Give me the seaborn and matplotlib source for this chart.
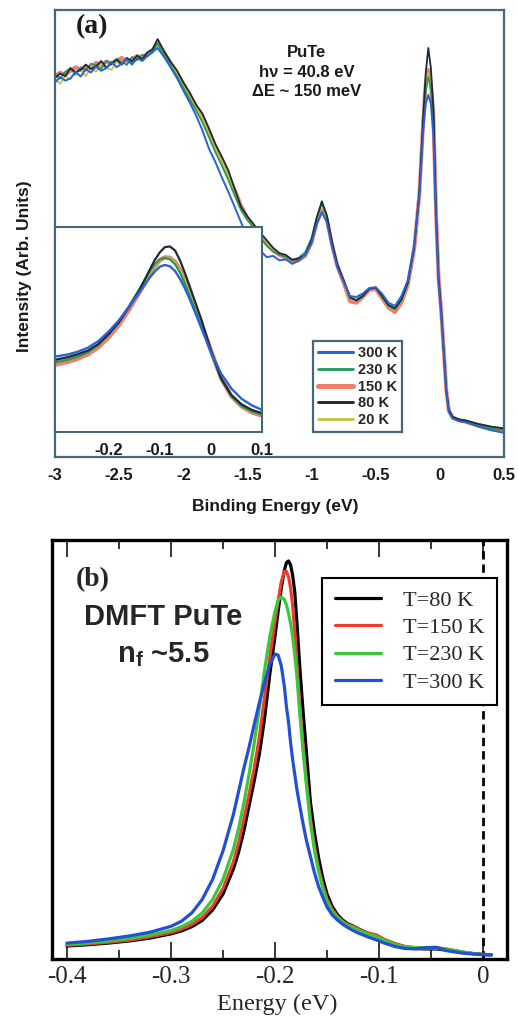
import matplotlib
matplotlib.use("Agg")
import matplotlib.pyplot as plt
from matplotlib.ticker import MultipleLocator
import seaborn as sns
import pandas as pd

sns.set_style("white")
plt.rcParams["font.family"] = ["Liberation Sans", "DejaVu Sans"]
plt.rcParams["mathtext.fontset"] = "custom"
plt.rcParams["mathtext.bf"] = "Liberation Sans:bold"
plt.rcParams["mathtext.rm"] = "Liberation Sans"
plt.rcParams["mathtext.it"] = "Liberation Sans:italic"

# ---------------- (a) photoemission spectra, PuTe ----------------
E_MAIN = [-3.00, -2.96, -2.92, -2.88, -2.84, -2.80, -2.76, -2.72, -2.68, -2.64,
          -2.60, -2.56, -2.52, -2.48, -2.44, -2.40, -2.36, -2.32, -2.28, -2.24,
          -2.20, -2.15, -2.10, -2.05, -2.00, -1.95, -1.90, -1.85, -1.80, -1.75,
          -1.70, -1.65, -1.60, -1.55, -1.50, -1.45, -1.40, -1.35, -1.30, -1.25,
          -1.20, -1.15, -1.10, -1.05, -1.00, -0.96, -0.92, -0.88, -0.84, -0.80,
          -0.75, -0.70, -0.65, -0.60, -0.55, -0.50, -0.45, -0.40, -0.35, -0.30,
          -0.25, -0.20, -0.16, -0.13, -0.11, -0.09, -0.07, -0.05, -0.03, -0.01,
          0.01, 0.03, 0.05, 0.07, 0.10, 0.15, 0.20, 0.30, 0.40, 0.50]

I_300K = [0.838, 0.850, 0.842, 0.847, 0.862, 0.851, 0.868, 0.860, 0.873, 0.864,
          0.870, 0.884, 0.872, 0.880, 0.890, 0.878, 0.892, 0.886, 0.897, 0.906,
          0.915, 0.895, 0.872, 0.848, 0.820, 0.793, 0.764, 0.730, 0.690, 0.660,
          0.626, 0.594, 0.560, 0.525, 0.492, 0.470, 0.462, 0.447, 0.450, 0.440,
          0.442, 0.432, 0.440, 0.452, 0.478, 0.520, 0.548, 0.525, 0.470, 0.425,
          0.392, 0.360, 0.358, 0.366, 0.378, 0.380, 0.365, 0.345, 0.338, 0.360,
          0.395, 0.475, 0.585, 0.730, 0.790, 0.810, 0.790, 0.720, 0.530, 0.390,
          0.320, 0.235, 0.145, 0.100, 0.086, 0.080, 0.078, 0.068, 0.060, 0.054]

I_230K = [0.856, 0.846, 0.862, 0.870, 0.855, 0.872, 0.864, 0.880, 0.876, 0.868,
          0.886, 0.880, 0.891, 0.884, 0.877, 0.895, 0.888, 0.900, 0.896, 0.908,
          0.925, 0.900, 0.876, 0.852, 0.826, 0.800, 0.775, 0.748, 0.715, 0.682,
          0.652, 0.620, 0.585, 0.552, 0.530, 0.512, 0.492, 0.472, 0.460, 0.452,
          0.448, 0.440, 0.446, 0.458, 0.490, 0.535, 0.568, 0.538, 0.478, 0.430,
          0.394, 0.355, 0.352, 0.364, 0.377, 0.378, 0.358, 0.338, 0.330, 0.350,
          0.388, 0.468, 0.590, 0.745, 0.820, 0.850, 0.825, 0.750, 0.545, 0.400,
          0.325, 0.238, 0.148, 0.103, 0.088, 0.083, 0.080, 0.071, 0.064, 0.060]

I_150K = [0.852, 0.860, 0.855, 0.864, 0.872, 0.866, 0.874, 0.870, 0.882, 0.876,
          0.885, 0.880, 0.887, 0.893, 0.884, 0.890, 0.897, 0.893, 0.902, 0.910,
          0.925, 0.905, 0.882, 0.860, 0.835, 0.810, 0.784, 0.760, 0.728, 0.695,
          0.665, 0.632, 0.598, 0.562, 0.535, 0.515, 0.496, 0.478, 0.462, 0.452,
          0.446, 0.436, 0.440, 0.450, 0.480, 0.525, 0.552, 0.530, 0.474, 0.428,
          0.390, 0.348, 0.345, 0.358, 0.374, 0.376, 0.355, 0.334, 0.324, 0.345,
          0.385, 0.465, 0.588, 0.750, 0.835, 0.866, 0.835, 0.760, 0.548, 0.402,
          0.328, 0.240, 0.150, 0.104, 0.088, 0.082, 0.079, 0.070, 0.062, 0.058]

I_80K = [0.848, 0.858, 0.852, 0.870, 0.861, 0.866, 0.878, 0.868, 0.874, 0.886,
         0.871, 0.880, 0.889, 0.878, 0.893, 0.885, 0.898, 0.890, 0.905, 0.912,
         0.935, 0.908, 0.884, 0.865, 0.838, 0.815, 0.788, 0.768, 0.735, 0.700,
         0.672, 0.642, 0.600, 0.560, 0.538, 0.520, 0.502, 0.485, 0.468, 0.456,
         0.452, 0.441, 0.444, 0.452, 0.485, 0.535, 0.572, 0.540, 0.480, 0.432,
         0.396, 0.358, 0.350, 0.360, 0.376, 0.379, 0.360, 0.340, 0.333, 0.352,
         0.390, 0.470, 0.590, 0.760, 0.860, 0.915, 0.870, 0.780, 0.550, 0.400,
         0.330, 0.240, 0.150, 0.105, 0.090, 0.084, 0.082, 0.074, 0.068, 0.064]

I_20K = [0.846, 0.835, 0.852, 0.845, 0.860, 0.866, 0.852, 0.870, 0.862, 0.878,
         0.870, 0.866, 0.884, 0.878, 0.890, 0.882, 0.888, 0.897, 0.900, 0.903,
         0.920, 0.904, 0.880, 0.858, 0.832, 0.808, 0.782, 0.756, 0.724, 0.692,
         0.662, 0.630, 0.594, 0.560, 0.536, 0.518, 0.500, 0.482, 0.466, 0.455,
         0.450, 0.442, 0.445, 0.455, 0.486, 0.532, 0.566, 0.536, 0.476, 0.430,
         0.394, 0.356, 0.350, 0.362, 0.376, 0.378, 0.358, 0.338, 0.330, 0.350,
         0.388, 0.468, 0.590, 0.748, 0.830, 0.860, 0.830, 0.755, 0.548, 0.402,
         0.328, 0.240, 0.150, 0.104, 0.090, 0.084, 0.082, 0.074, 0.068, 0.064]

# inset: zoom on the quasiparticle peak near E_F
E_INSET = [-0.305, -0.28, -0.26, -0.24, -0.22, -0.20, -0.18, -0.16, -0.14, -0.12,
           -0.11, -0.10, -0.09, -0.08, -0.07, -0.06, -0.05, -0.04, -0.02, 0.0,
           0.02, 0.04, 0.06, 0.08, 0.10]
IN_300K = [0.368, 0.378, 0.392, 0.412, 0.444, 0.490, 0.545, 0.612, 0.680, 0.752,
           0.782, 0.806, 0.815, 0.808, 0.785, 0.745, 0.696, 0.640, 0.515, 0.390,
           0.285, 0.212, 0.162, 0.130, 0.108]
IN_230K = [0.340, 0.352, 0.368, 0.390, 0.425, 0.475, 0.538, 0.615, 0.698, 0.782,
           0.818, 0.842, 0.850, 0.842, 0.818, 0.775, 0.718, 0.655, 0.525, 0.388,
           0.258, 0.175, 0.127, 0.100, 0.085]
IN_150K = [0.328, 0.342, 0.358, 0.380, 0.414, 0.462, 0.522, 0.598, 0.680, 0.768,
           0.808, 0.838, 0.852, 0.850, 0.830, 0.790, 0.735, 0.672, 0.540, 0.398,
           0.262, 0.175, 0.125, 0.096, 0.080]
IN_80K = [0.352, 0.365, 0.380, 0.398, 0.430, 0.478, 0.535, 0.610, 0.690, 0.790,
          0.838, 0.876, 0.902, 0.905, 0.885, 0.835, 0.770, 0.700, 0.558, 0.400,
          0.262, 0.180, 0.135, 0.108, 0.092]
IN_20K = [0.345, 0.357, 0.372, 0.393, 0.427, 0.476, 0.536, 0.610, 0.690, 0.775,
          0.812, 0.840, 0.852, 0.848, 0.826, 0.784, 0.728, 0.665, 0.532, 0.392,
          0.260, 0.176, 0.128, 0.100, 0.086]

A_LABELS = ["300 K", "230 K", "150 K", "80 K", "20 K"]
A_COLORS = ["#2a62d6", "#1d9a5a", "#f27d6c", "#1f2a38", "#bcc43a"]
A_WIDTHS = [1.4, 1.2, 2.8, 1.3, 1.2]
A_MAIN = [I_300K, I_230K, I_150K, I_80K, I_20K]
A_INSET = [IN_300K, IN_230K, IN_150K, IN_80K, IN_20K]
A_ORDER = [2, 4, 1, 3, 0]          # drawing order (thick red underneath)

A_XTICKS = [-3, -2.5, -2, -1.5, -1, -0.5, 0, 0.5]
A_XTICKLABELS = ["-3", "-2.5", "-2", "-1.5", "-1", "-0.5", "0", "0.5"]
INSET_XTICKS = [-0.2, -0.1, 0, 0.1]
INSET_XTICKLABELS = ["-0.2", "-0.1", "0", "0.1"]

# ---------------- (b) DMFT spectral function ----------------
E_B = [-0.40, -0.38, -0.36, -0.34, -0.32, -0.30, -0.29, -0.28, -0.27, -0.26,
       -0.25, -0.24, -0.235, -0.23, -0.225, -0.22, -0.215, -0.21, -0.205, -0.20,
       -0.197, -0.194, -0.191, -0.189, -0.187, -0.185, -0.183, -0.181, -0.179, -0.176,
       -0.173, -0.170, -0.166, -0.162, -0.158, -0.154, -0.15, -0.145, -0.14, -0.135,
       -0.13, -0.125, -0.12, -0.11, -0.103, -0.095, -0.085, -0.075, -0.065, -0.055,
       -0.045, -0.035, -0.02, -0.01, 0.0, 0.008]
A_80K = [0.031, 0.034, 0.038, 0.043, 0.050, 0.060, 0.067, 0.077, 0.092, 0.117,
         0.155, 0.215, 0.255, 0.305, 0.365, 0.425, 0.490, 0.575, 0.680, 0.770,
         0.830, 0.885, 0.928, 0.946, 0.950, 0.940, 0.915, 0.875, 0.805, 0.690,
         0.590, 0.500, 0.375, 0.300, 0.240, 0.192, 0.155, 0.125, 0.106, 0.093,
         0.084, 0.079, 0.072, 0.061, 0.056, 0.046, 0.036, 0.029, 0.025, 0.024,
         0.024, 0.021, 0.016, 0.013, 0.011, 0.010]
A_150K = [0.033, 0.036, 0.040, 0.045, 0.053, 0.063, 0.071, 0.082, 0.099, 0.126,
          0.168, 0.232, 0.277, 0.333, 0.393, 0.455, 0.530, 0.625, 0.720, 0.805,
          0.855, 0.900, 0.925, 0.925, 0.912, 0.885, 0.842, 0.780, 0.705, 0.600,
          0.510, 0.430, 0.335, 0.268, 0.215, 0.175, 0.143, 0.118, 0.102, 0.090,
          0.082, 0.078, 0.071, 0.061, 0.058, 0.047, 0.037, 0.030, 0.027, 0.026,
          0.027, 0.024, 0.017, 0.013, 0.011, 0.010]
A_230K = [0.035, 0.038, 0.043, 0.049, 0.057, 0.068, 0.077, 0.090, 0.110, 0.142,
          0.190, 0.262, 0.312, 0.372, 0.440, 0.515, 0.600, 0.690, 0.770, 0.830,
          0.857, 0.864, 0.858, 0.845, 0.825, 0.800, 0.768, 0.725, 0.675, 0.580,
          0.495, 0.420, 0.325, 0.258, 0.207, 0.168, 0.138, 0.114, 0.099, 0.088,
          0.080, 0.076, 0.069, 0.059, 0.054, 0.045, 0.035, 0.029, 0.027, 0.027,
          0.026, 0.023, 0.017, 0.013, 0.011, 0.010]
A_300K = [0.038, 0.042, 0.048, 0.055, 0.064, 0.078, 0.090, 0.110, 0.142, 0.190,
          0.258, 0.345, 0.400, 0.455, 0.505, 0.560, 0.612, 0.660, 0.703, 0.728,
          0.725, 0.700, 0.650, 0.601, 0.565, 0.515, 0.475, 0.440, 0.405, 0.363,
          0.322, 0.285, 0.245, 0.205, 0.172, 0.147, 0.124, 0.105, 0.093, 0.083,
          0.075, 0.068, 0.062, 0.052, 0.046, 0.038, 0.030, 0.025, 0.024, 0.027,
          0.028, 0.020, 0.014, 0.012, 0.010, 0.010]

B_LABELS = ["T=80 K", "T=150 K", "T=230 K", "T=300 K"]
B_COLORS = ["#000000", "#ee3b2a", "#3cc63c", "#2150d2"]
B_I = [A_80K, A_150K, A_230K, A_300K]
B_XTICKS = [-0.4, -0.3, -0.2, -0.1, 0.0]
B_XTICKLABELS = ["-0.4", "-0.3", "-0.2", "-0.1", "0"]

W, H = 518, 1019
fig = plt.figure(figsize=(W / 100, H / 100), dpi=100)
fig.patch.set_facecolor("white")

FRAME_A = "#46677a"
SANS_BOLD = dict(family=["Liberation Sans", "DejaVu Sans"], weight="bold")
SERIF = ["Liberation Serif", "DejaVu Serif"]

# ---------- panel (a) ----------
ax_a = fig.add_axes([55 / W, 1 - 457 / H, 449 / W, 447 / H])
handles = {}
for k in A_ORDER:
    df = pd.DataFrame({"E": E_MAIN, "I": A_MAIN[k]})
    sns.lineplot(data=df, x="E", y="I", ax=ax_a, color=A_COLORS[k],
                 linewidth=A_WIDTHS[k], sort=False, estimator=None)
    handles[k] = ax_a.lines[-1]
ax_a.set_xlim(-3.0, 0.5)
ax_a.set_ylim(0, 1)
ax_a.set_xticks(A_XTICKS)
ax_a.set_xticklabels(A_XTICKLABELS, fontsize=12, **SANS_BOLD)
ax_a.set_yticks([])
ax_a.tick_params(axis="x", length=0, pad=8, colors="#1a1a1a")
for s in ax_a.spines.values():
    s.set_color(FRAME_A)
    s.set_linewidth(1.6)
ax_a.set_xlabel("Binding Energy (eV)", fontsize=12.5, color="#1a1a1a", **SANS_BOLD)
ax_a.xaxis.set_label_coords(0.49, -0.094)
ax_a.set_ylabel("Intensity (Arb. Units)", fontsize=12.5, color="#1a1a1a", **SANS_BOLD)
ax_a.yaxis.set_label_coords(-0.052, 0.427)

ax_a.text(0.082, 0.962, "(a)", transform=ax_a.transAxes, ha="center", va="center",
          fontsize=20, family=SERIF, weight="bold", color="#1a1a1a")
for txt, yy in [("PuTe", 0.906), ("h\u03bd = 40.8 eV", 0.861), ("\u0394E ~ 150 meV", 0.818)]:
    ax_a.text(0.561, yy, txt, transform=ax_a.transAxes, ha="center", va="center",
              fontsize=12, color="#1a1a1a", **SANS_BOLD)

leg_a = ax_a.legend([handles[k] for k in range(5)], A_LABELS, loc="lower left",
                    bbox_to_anchor=(0.575, 0.056), borderaxespad=0, frameon=True,
                    fancybox=False, framealpha=1, handlelength=2.4, handletextpad=0.3,
                    labelspacing=0.18, borderpad=0.35,
                    prop=dict(family=["Liberation Sans", "DejaVu Sans"], weight="bold", size=10.5))
leg_a.get_frame().set_edgecolor(FRAME_A)
leg_a.get_frame().set_linewidth(1.6)
for lh, k in zip(leg_a.get_lines(), range(5)):
    lh.set_linewidth(A_WIDTHS[k] + 0.8)

# inset
ax_in = fig.add_axes([55 / W, 1 - 432 / H, 207 / W, 205 / H])
ax_in.set_facecolor("white")
for k in A_ORDER:
    df = pd.DataFrame({"E": E_INSET, "I": A_INSET[k]})
    sns.lineplot(data=df, x="E", y="I", ax=ax_in, color=A_COLORS[k],
                 linewidth=A_WIDTHS[k] + 0.3, sort=False, estimator=None)
ax_in.set_xlim(-0.305, 0.1)
ax_in.set_ylim(0, 1)
ax_in.set_xticks(INSET_XTICKS)
ax_in.set_xticklabels(INSET_XTICKLABELS, fontsize=12, **SANS_BOLD)
ax_in.set_yticks([])
ax_in.tick_params(axis="x", length=0, pad=8, colors="#1a1a1a")
ax_in.set_xlabel("")
ax_in.set_ylabel("")
for s in ax_in.spines.values():
    s.set_color(FRAME_A)
    s.set_linewidth(1.5)

# ---------- panel (b) ----------
ax_b = fig.add_axes([52 / W, 1 - 959 / H, 455 / W, 419 / H])
for i, c, lab in zip(B_I, B_COLORS, B_LABELS):
    df = pd.DataFrame({"E": E_B, "I": i})
    sns.lineplot(data=df, x="E", y="I", ax=ax_b, color=c, linewidth=2.3,
                 sort=False, estimator=None, label=lab)
ax_b.axvline(0.0, color="black", linewidth=2.0, linestyle=(0, (3.0, 1.8)), zorder=1)
ax_b.set_xlim(-0.4144, 0.023)
ax_b.set_ylim(0, 1)
ax_b.set_xticks(B_XTICKS)
ax_b.set_xticklabels(B_XTICKLABELS, fontsize=18, family=SERIF)
ax_b.xaxis.set_minor_locator(MultipleLocator(0.05))
ax_b.set_yticks([])
ax_b.tick_params(axis="x", which="major", direction="in", top=True, bottom=True,
                 length=12, width=1.3, pad=5)
ax_b.tick_params(axis="x", which="minor", direction="in", top=True, bottom=True,
                 length=6.5, width=1.3)
for s in ax_b.spines.values():
    s.set_color("black")
    s.set_linewidth(2.4)
ax_b.set_ylabel("")
ax_b.set_xlabel("Energy (eV)", fontsize=17.5, family=SERIF)
ax_b.xaxis.set_label_coords(0.4945, -0.083)

ax_b.text(0.09, 0.905, "(b)", transform=ax_b.transAxes, ha="center", va="center",
          fontsize=20, family=SERIF, weight="bold")
ax_b.text(0.244, 0.816, "DMFT PuTe", transform=ax_b.transAxes, ha="center", va="center",
          fontsize=21, **SANS_BOLD)
ax_b.text(0.244, 0.726, r"$\mathbf{n_f}$ ~5.5", transform=ax_b.transAxes, ha="center",
          va="center", fontsize=21, **SANS_BOLD)

leg_b = ax_b.legend(loc="upper right", bbox_to_anchor=(0.978, 0.909), borderaxespad=0,
                    frameon=True, fancybox=False, framealpha=1, handlelength=2.1,
                    handletextpad=1.0, labelspacing=0.3, borderpad=0.55,
                    prop=dict(family=SERIF, size=16))
leg_b.get_frame().set_edgecolor("black")
leg_b.get_frame().set_linewidth(1.5)
leg_b.set_zorder(5)

fig.savefig("out.png", dpi=100, facecolor="white")
